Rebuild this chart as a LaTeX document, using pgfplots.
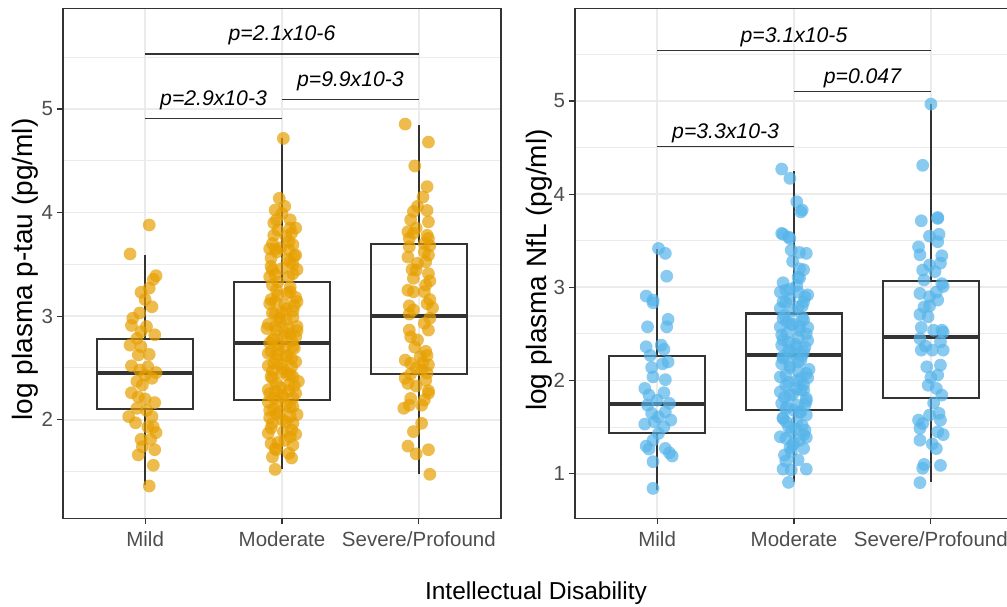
\documentclass[border=0pt]{standalone}
\usepackage{fontspec}
\setmainfont{Liberation Sans}
\usepackage{pgfplots}
\pgfplotsset{compat=1.18}
\usepgfplotslibrary{statistics}

\definecolor{ptau}{HTML}{E69F00}
\definecolor{nfl}{HTML}{56B4E9}
\definecolor{ink}{HTML}{333333}
\definecolor{ticktext}{HTML}{4D4D4D}
\definecolor{gridc}{HTML}{EBEBEB}

% filled dot without outline, so overlaps darken like alpha points
\pgfdeclareplotmark{dot}{\pgfpathcircle{\pgfpointorigin}{\pgfplotmarksize}\pgfusepathqfill}

\pgfplotsset{
  panel/.style={
    scale only axis, width=219pt, height=255.1pt,
    xmin=0.4, xmax=3.6,
    xtick={1,2,3}, xticklabels={Mild,Moderate,Severe/Profound},
    minor ytick={1.5,2.5,3.5,4.5,5.5},
    xmajorgrids, ymajorgrids, yminorgrids,
    major grid style={gridc, line width=0.9pt},
    minor grid style={gridc, line width=0.5pt},
    axis line style={ink, line width=0.6pt},
    tick align=outside, major tick length=2.8pt, minor tick length=0pt,
    every tick/.style={ink, line width=0.6pt},
    xtick pos=left, ytick pos=left,
    tick label style={font=\fontsize{10.25}{12}\selectfont, text=ticktext},
    yticklabel style={inner sep=2pt},
    /pgf/number format/assume math mode=true,
    boxplot/draw direction=y,
    boxplot/box extend=0.7,
    boxplot/whisker extend=0,
    boxplot/every median/.style={line width=2pt},
  },
  pts/.style={only marks, mark=dot, mark size=3.2pt, mark options={fill=#1, fill opacity=0.7}},
  bx/.style={ink, line width=1.05pt, solid},
  br/.style={ink, line width=0.6pt},
}
\tikzset{pv/.style={font=\fontsize{10.6}{12}\selectfont\itshape, anchor=base}}

\begin{document}
\begin{tikzpicture}

% ---------------- p-tau ----------------
\begin{axis}[panel, at={(31.5pt,43.75pt)}, anchor=south west,
  ymin=1.046, ymax=5.972, ytick={2,3,4,5}]

\addplot[pts=ptau] coordinates {
 (1.03,3.88) (0.89,3.60) (1.08,3.39) (1.06,3.355) (1.03,3.27) (0.97,3.23)
 (1.00,3.16) (1.05,3.09) (0.96,3.03) (0.91,2.98) (0.90,2.91) (1.01,2.90)
 (0.97,2.85) (1.07,2.82) (0.94,2.785) (0.89,2.72) (0.97,2.705) (1.03,2.63)
 (0.95,2.625) (0.90,2.52) (1.02,2.51) (0.96,2.48) (1.08,2.455) (1.00,2.43)
 (1.05,2.40) (0.94,2.37) (0.98,2.335) (0.90,2.26) (0.95,2.22) (1.00,2.20)
 (1.07,2.165) (0.94,2.11) (1.01,2.09) (0.88,2.03) (1.05,2.03) (0.93,1.97)
 (1.02,1.93) (1.06,1.93) (1.08,1.875) (0.97,1.81) (1.04,1.81) (0.98,1.74)
 (1.07,1.71) (0.95,1.66) (1.06,1.56) (1.03,1.36)
};
\addplot[pts=ptau] coordinates {
 (2.01,4.716) (1.98,4.137) (1.95,4.024) (2.00,3.99) (2.06,3.93) (1.96,3.93)
 (2.10,3.85) (2.06,3.85) (1.97,3.83) (1.94,3.78) (2.03,3.77) (2.08,3.69)
 (1.91,3.65) (1.95,3.65) (2.05,3.64) (2.10,3.59) (1.92,3.56) (2.06,3.525)
 (1.93,3.445) (2.08,3.41) (1.91,3.38) (1.95,3.40) (2.05,3.38)
 (1.96,3.25) (2.06,3.235) (2.11,3.14) (1.95,3.14) (2.02,3.11) (1.93,3.03)
 (2.08,2.99) (1.98,2.98) (2.03,2.96) (1.89,2.88) (2.11,2.90) (1.96,2.865)
 (2.06,2.83) (2.01,2.80) (1.93,2.77) (2.08,2.705) (1.97,2.67) (1.90,2.64)
 (2.03,2.61) (1.94,2.545) (2.07,2.51) (2.00,2.46) (1.92,2.415) (2.08,2.415)
 (1.96,2.35) (2.05,2.335) (1.90,2.29) (2.10,2.255) (2.00,2.24) (1.94,2.205)
 (1.91,2.09) (2.08,2.125) (1.96,2.06) (2.06,2.03) (1.93,1.965) (2.08,1.965)
 (1.90,1.87) (2.01,1.885) (2.06,1.835) (1.92,1.77) (2.08,1.755) (1.96,1.71)
 (2.05,1.675) (1.93,1.64) (2.07,1.63) (1.95,1.52)
 (1.93,3.30) (2.06,3.28) (1.97,3.20) (2.10,3.18) (1.91,3.12) (2.03,3.07)
 (1.95,3.02) (2.08,3.05) (1.99,2.95) (1.90,2.92) (2.11,2.86) (2.02,2.84)
 (1.94,2.78) (2.07,2.76) (1.98,2.73) (2.09,2.69) (1.92,2.66) (2.04,2.62)
 (1.96,2.58) (2.10,2.56) (1.90,2.52) (2.01,2.49) (2.06,2.44) (1.93,2.40)
 (2.12,2.37) (1.99,2.31) (2.05,2.28) (1.91,2.25) (2.08,2.21) (1.97,2.18)
 (2.03,2.14) (1.94,2.10) (2.11,2.05) (2.00,2.00) (1.92,1.92) (2.07,1.90)
 (2.02,1.80) (1.95,1.72) (2.09,3.58) (1.96,3.62) (2.05,3.72) (1.92,3.48)
 (2.08,3.50) (2.00,3.46) (1.94,3.90) (2.02,4.06)
 (1.97,3.33) (2.04,3.22) (1.92,3.16) (2.09,3.10) (2.00,3.04) (1.95,2.90)
 (2.05,2.88) (2.10,2.80) (1.91,2.74) (2.02,2.70) (1.96,2.63) (2.07,2.59)
 (1.99,2.53) (1.93,2.47) (2.04,2.43) (2.09,2.33) (1.95,2.28) (2.01,2.22)
 (1.90,2.17) (2.06,2.12) (1.98,2.07) (2.03,1.98) (1.91,2.02) (2.10,1.86)
 (1.97,1.78) (2.04,3.55) (1.93,3.70) (2.07,3.80) (1.99,3.66) (2.11,3.45)
};
\addplot[pts=ptau] coordinates {
 (2.90,4.854) (3.07,4.68) (2.97,4.45) (3.06,4.25) (3.03,4.15) (2.99,4.06)
 (2.96,4.01) (3.06,4.02) (2.94,3.93) (3.07,3.91) (2.92,3.815) (2.96,3.80)
 (3.06,3.78) (2.93,3.75) (3.07,3.75) (3.04,3.70) (2.93,3.67) (3.08,3.68)
 (3.07,3.59) (2.92,3.57) (3.05,3.525) (2.99,3.51) (3.07,3.41) (2.98,3.445)
 (3.08,3.34) (2.96,3.365) (2.92,3.25) (2.96,3.235) (3.04,3.235) (3.08,3.16)
 (3.06,3.12) (2.93,3.10) (2.96,3.06) (3.10,3.08) (3.04,2.93) (3.07,2.865)
 (2.93,2.865) (2.94,2.80) (2.99,2.77) (3.05,2.66) (3.01,2.61) (2.90,2.575)
 (2.94,2.545) (3.07,2.53) (2.98,2.50) (3.02,2.48) (3.06,2.45) (2.90,2.40)
 (3.05,2.38) (2.98,2.325) (3.07,2.255) (2.94,2.205) (3.04,2.19) (2.89,2.11)
 (2.93,2.14) (3.02,2.14) (3.02,1.965) (2.96,1.885) (2.92,1.745) (2.98,1.67)
 (3.07,1.71) (3.08,1.473)
 (2.95,3.45) (3.05,3.30) (2.93,3.02) (3.08,2.98) (2.97,2.70) (3.03,2.55)
 (2.92,2.35) (3.06,2.62) (2.98,3.85) (3.04,3.62) (2.94,2.44) (3.07,2.28)
};

\addplot[bx, boxplot prepared={draw position=1, lower whisker=1.37,
  lower quartile=2.10, median=2.448, upper quartile=2.779, upper whisker=3.59}] coordinates {};
\addplot[bx, boxplot prepared={draw position=2, lower whisker=1.52,
  lower quartile=2.19, median=2.743, upper quartile=3.332, upper whisker=4.72}] coordinates {};
\addplot[bx, boxplot prepared={draw position=3, lower whisker=1.476,
  lower quartile=2.438, median=3.004, upper quartile=3.693, upper whisker=4.845}] coordinates {};

\addplot[br] coordinates {(1,5.531) (3,5.531)};
\addplot[br] coordinates {(1,4.91) (2,4.91)};
\addplot[br] coordinates {(2,5.09) (3,5.09)};
\node[pv, yshift=6.5pt] at (axis cs:2,5.531) {p=2.1x10-6};
\node[pv, yshift=6.5pt] at (axis cs:1.5,4.91) {p=2.9x10-3};
\node[pv, yshift=6.5pt] at (axis cs:2.5,5.09) {p=9.9x10-3};
\end{axis}

% ---------------- NfL ----------------
\begin{axis}[panel, at={(287.5pt,43.75pt)}, anchor=south west,
  ymin=0.52, ymax=5.995, ytick={1,2,3,4,5}]

\addplot[pts=nfl] coordinates {
 (1.01,3.418) (1.06,3.365) (1.07,3.12) (0.92,2.907) (0.97,2.864) (0.97,2.835)
 (1.08,2.657) (1.07,2.577) (0.93,2.577) (0.92,2.363) (1.03,2.38) (1.05,2.335)
 (0.95,2.27) (1.08,2.20) (1.04,2.18) (0.96,2.14) (0.97,2.04) (1.06,2.01)
 (0.91,1.916) (1.05,1.87) (0.94,1.845) (1.00,1.79) (1.09,1.755) (0.93,1.737)
 (0.96,1.648) (1.06,1.665) (1.01,1.61) (1.10,1.576) (0.91,1.533) (0.98,1.558)
 (1.05,1.504) (1.01,1.433) (0.97,1.36) (0.92,1.297) (1.06,1.272) (0.94,1.265)
 (1.09,1.225) (1.11,1.19) (0.97,1.13) (0.97,0.843)
};
\addplot[pts=nfl] coordinates {
 (1.91,4.27) (1.97,4.17) (2.02,3.92) (2.05,3.81) (2.06,3.83) (1.91,3.58)
 (1.92,3.57) (1.97,3.525) (1.96,3.54) (2.04,3.375) (2.09,3.365) (1.98,3.40)
 (1.99,3.28) (2.04,3.20) (2.07,3.19) (2.03,3.11) (1.90,2.95) (1.94,2.97)
 (2.03,2.95) (2.07,2.845) (1.92,2.845) (1.97,2.88) (1.90,2.775) (2.03,2.79)
 (1.92,2.667) (2.07,2.65) (1.99,2.61) (1.90,2.577) (2.04,2.54) (1.95,2.506)
 (2.10,2.43) (1.91,2.38) (2.02,2.36) (1.96,2.327) (2.07,2.31) (1.92,2.24)
 (2.03,2.20) (1.97,2.166) (2.09,2.077) (1.90,2.04) (2.05,2.024) (1.94,1.95)
 (2.02,1.916) (2.07,1.898) (1.97,1.844) (1.91,1.755) (2.09,1.81) (2.02,1.737)
 (1.94,1.70) (2.05,1.665) (2.09,1.63) (1.92,1.594) (2.02,1.558) (1.96,1.504)
 (2.08,1.469) (1.90,1.397) (1.94,1.38) (2.04,1.36) (2.09,1.39) (1.99,1.308)
 (2.07,1.272) (1.98,1.236) (1.94,1.136) (1.92,1.05) (1.98,1.04) (2.09,1.05)
 (1.96,0.907)
 (1.93,2.70) (2.06,2.68) (1.98,2.60) (2.10,2.57) (1.91,2.49) (2.03,2.46)
 (1.96,2.41) (2.08,2.36) (2.00,2.29) (1.92,2.26) (2.05,2.22) (1.97,2.14)
 (2.11,2.12) (1.94,2.06) (2.02,2.00) (2.07,1.96) (1.90,1.88) (1.99,1.85)
 (2.09,1.78) (1.95,1.72) (2.04,1.66) (1.92,1.60) (2.06,1.52) (1.98,1.45)
 (2.00,1.33) (1.93,1.20) (2.08,2.90) (1.97,2.98) (2.02,3.02) (1.94,2.84)
 (1.95,2.63) (2.04,2.58) (2.09,2.50) (1.92,2.44) (2.01,2.39) (1.97,2.30)
 (2.06,2.27) (1.91,2.18) (2.03,2.10) (2.10,2.03) (1.96,1.98) (2.05,1.90)
 (1.93,1.82) (2.08,1.74) (2.00,1.68) (1.94,1.56) (2.07,1.42) (2.01,1.48)
 (1.99,2.75) (2.06,2.80) (1.92,3.05) (2.04,3.10) (2.10,2.92) (1.97,1.28)
 (2.03,1.15)
};
\addplot[pts=nfl] coordinates {
 (3.00,4.967) (2.94,4.31) (2.93,3.715) (3.05,3.75) (3.05,3.74) (2.99,3.55)
 (3.06,3.57) (3.05,3.49) (2.91,3.435) (2.92,3.35) (3.08,3.34) (3.07,3.26)
 (2.99,3.24) (2.94,3.186) (3.03,3.17) (2.95,3.08) (3.09,3.01) (3.08,3.04)
 (2.92,2.935) (3.04,2.95) (2.99,2.90) (3.05,2.864) (2.95,2.79) (2.99,2.80)
 (2.92,2.71) (2.98,2.685) (2.93,2.57) (3.08,2.54) (3.02,2.54) (3.09,2.52)
 (2.92,2.45) (3.07,2.416) (2.96,2.37) (3.09,2.327) (2.93,2.327) (3.01,2.327)
 (3.07,2.166) (2.97,2.148) (3.05,2.06) (3.00,2.034) (2.98,1.95) (3.04,1.916)
 (3.08,1.844) (3.02,1.76) (2.91,1.576) (2.94,1.54) (2.99,1.63) (3.06,1.648)
 (3.07,1.576) (2.92,1.487) (3.05,1.45) (3.09,1.42) (2.92,1.36) (3.01,1.32)
 (3.04,1.27) (2.95,1.10) (2.94,1.06) (3.07,1.09) (2.92,0.905)
};

\addplot[bx, boxplot prepared={draw position=1, lower whisker=0.83,
  lower quartile=1.433, median=1.745, upper quartile=2.263, upper whisker=3.408}] coordinates {};
\addplot[bx, boxplot prepared={draw position=2, lower whisker=0.914,
  lower quartile=1.683, median=2.27, upper quartile=2.72, upper whisker=4.25}] coordinates {};
\addplot[bx, boxplot prepared={draw position=3, lower whisker=0.908,
  lower quartile=1.81, median=2.463, upper quartile=3.068, upper whisker=4.97}] coordinates {};

\addplot[br] coordinates {(1,5.54) (3,5.54)};
\addplot[br] coordinates {(2,5.104) (3,5.104)};
\addplot[br] coordinates {(1,4.514) (2,4.514)};
\node[pv, yshift=4pt] at (axis cs:2,5.54) {p=3.1x10-5};
\node[pv, yshift=4pt] at (axis cs:2.5,5.104) {p=0.047};
\node[pv, yshift=4pt] at (axis cs:1.5,4.514) {p=3.3x10-3};
\end{axis}

\node[rotate=90, font=\fontsize{14}{16}\selectfont] at (12.5pt,168.25pt) {log plasma p-tau (pg/ml)};
\node[rotate=90, font=\fontsize{14}{16}\selectfont] at (269.5pt,168pt) {log plasma NfL (pg/ml)};
\node[anchor=base, font=\fontsize{12.25}{14}\selectfont] at (268pt,3.5pt) {Intellectual Disability};

\pgfresetboundingbox
\path[use as bounding box] (0,0) rectangle (503.5pt,303pt);
\end{tikzpicture}
\end{document}
